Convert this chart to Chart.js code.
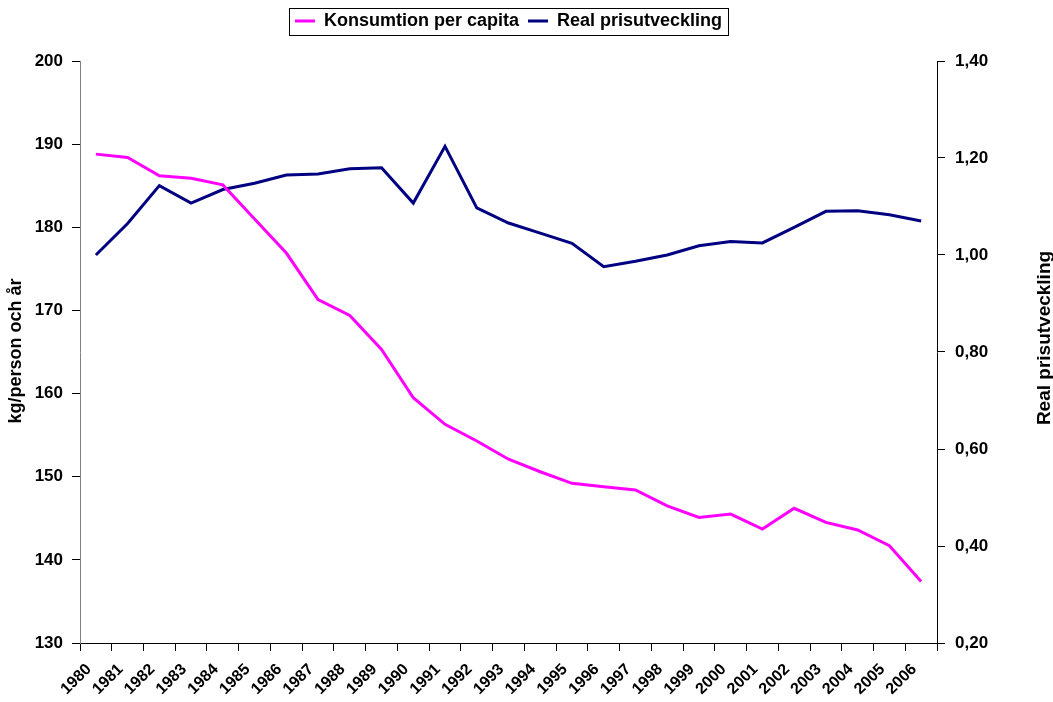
<!DOCTYPE html>
<html>
<head>
<meta charset="utf-8">
<script src="https://cdn.jsdelivr.net/npm/chart.js@4.4.1/dist/chart.umd.min.js"></script>
<style>
  html, body { margin: 0; padding: 0; background: #fff; }
  #wrap { width: 1053px; height: 702px; }
</style>
</head>
<body>
<div id="wrap"><canvas id="priceChart" width="1053" height="702"></canvas></div>
<script>
const years = ["1980", "1981", "1982", "1983", "1984", "1985", "1986", "1987", "1988", "1989",
  "1990", "1991", "1992", "1993", "1994", "1995", "1996", "1997", "1998", "1999",
  "2000", "2001", "2002", "2003", "2004", "2005", "2006"];

// kg/person och år (left axis)
const konsumtion = [188.8, 188.4, 186.2, 185.9, 185.1, 181.0, 176.9, 171.3, 169.4, 165.3,
  159.5, 156.3, 154.3, 152.1, 150.6, 149.2, 148.8, 148.4, 146.5, 145.1,
  145.5, 143.7, 146.2, 144.5, 143.6, 141.7, 137.4];

// real price index (right axis)
const prisutveckling = [1.00, 1.065, 1.143, 1.107, 1.135, 1.148, 1.165, 1.167, 1.178, 1.18,
  1.107, 1.224, 1.097, 1.066, 1.045, 1.024, 0.976, 0.987, 1.00, 1.019,
  1.028, 1.025, 1.057, 1.09, 1.091, 1.083, 1.07];

const leftTicks = [130, 140, 150, 160, 170, 180, 190, 200];
const rightTicks = [0.2, 0.4, 0.6, 0.8, 1.0, 1.2, 1.4];
const leftTitle = "kg/person och år";
const rightTitle = "Real prisutveckling";

const FONT = "Arial, 'Liberation Sans', sans-serif";
Chart.defaults.font.family = FONT;
Chart.defaults.font.weight = "bold";
Chart.defaults.color = "#000";

// vertical title with its centre at (x, y), reading bottom to top
function drawTitle(ctx, text, x, y, size) {
  ctx.save();
  ctx.fillStyle = "#000";
  ctx.font = "bold " + size + "px " + FONT;
  ctx.textAlign = "center";
  ctx.textBaseline = "middle";
  ctx.translate(x, y);
  ctx.rotate(-Math.PI / 2);
  ctx.fillText(text, 0, 0);
  ctx.restore();
}

// titles + legend frame drawn by hand (Excel style)
const extras = {
  id: "extras",
  afterInit(chart) {
    // leave extra room under the legend so the plot starts lower
    const lg = chart.legend;
    if (!lg) return;
    const fit = lg.fit;
    lg.fit = function () {
      fit.call(this);
      this.height += 21;
    };
  },
  afterDraw(chart) {
    const ctx = chart.ctx;
    const lg = chart.legend;
    if (lg && lg.legendHitBoxes.length) {
      const boxes = lg.legendHitBoxes;
      const l = Math.min(...boxes.map((b) => b.left)) - 6;
      const r = Math.max(...boxes.map((b) => b.left + b.width)) + 6;
      const t = Math.min(...boxes.map((b) => b.top)) - 4;
      const b = Math.max(...boxes.map((b) => b.top + b.height)) + 5;
      ctx.save();
      ctx.strokeStyle = "#000";
      ctx.lineWidth = 1;
      ctx.strokeRect(Math.round(l) + 0.5, Math.round(t) + 0.5, Math.round(r - l), Math.round(b - t));
      ctx.restore();
    }
    drawTitle(ctx, leftTitle, 16, 351, 18);
    drawTitle(ctx, rightTitle, 1045, 338, 19);
  },
};

const priceCtx = document.getElementById("priceChart").getContext("2d");

const priceChart = new Chart(priceCtx, {
  type: "line",
  data: {
    labels: years,
    datasets: [
      {
        label: "Konsumtion per capita",
        data: konsumtion,
        borderColor: "#FF00FF",
        backgroundColor: "#FF00FF",
        borderWidth: 3,
        pointRadius: 0,
        pointStyle: "line",
        tension: 0,
        yAxisID: "y",
      },
      {
        label: "Real prisutveckling",
        data: prisutveckling,
        borderColor: "#000080",
        backgroundColor: "#000080",
        borderWidth: 3,
        pointRadius: 0,
        pointStyle: "line",
        tension: 0,
        yAxisID: "y1",
      },
    ],
  },
  options: {
    responsive: false,
    animation: false,
    layout: {
      padding: { top: 3, right: 36, left: 0, bottom: 0 },
    },
    plugins: {
      legend: {
        position: "top",
        labels: {
          usePointStyle: true,
          pointStyleWidth: 20,
          boxWidth: 20,
          padding: 9,
          font: { size: 18, weight: "bold" },
        },
      },
      tooltip: { enabled: false },
    },
    scales: {
      x: {
        offset: true,
        grid: {
          offset: true,
          drawOnChartArea: false,
          tickLength: 8,
          color: "#000",
        },
        border: { color: "#000", width: 1 },
        ticks: {
          minRotation: 45,
          maxRotation: 45,
          autoSkip: false,
          padding: 9,
          labelOffset: -7,
          font: { size: 16, weight: "bold" },
        },
        afterFit: (scale) => {
          scale.height = 59;
        },
      },
      y: {
        position: "left",
        min: 130,
        max: 200,
        afterBuildTicks: (scale) => {
          scale.ticks = leftTicks.map((v) => ({ value: v }));
        },
        grid: { drawOnChartArea: false, tickLength: 8, color: "#000" },
        border: { color: "#808080", width: 1 },
        ticks: { padding: 9, font: { size: 17, weight: "bold" } },
        afterFit: (scale) => {
          scale.width = 80;
        },
      },
      y1: {
        position: "right",
        min: 0.2,
        max: 1.4,
        afterBuildTicks: (scale) => {
          scale.ticks = rightTicks.map((v) => ({ value: v }));
        },
        grid: { drawOnChartArea: false, tickLength: 8, color: "#000" },
        border: { color: "#000", width: 1 },
        ticks: {
          padding: 10,
          font: { size: 17, weight: "bold" },
          callback: (v) => v.toFixed(2).replace(".", ","),
        },
        afterFit: (scale) => {
          scale.width = 80;
        },
      },
    },
  },
  plugins: [extras],
});
</script>
</body>
</html>
